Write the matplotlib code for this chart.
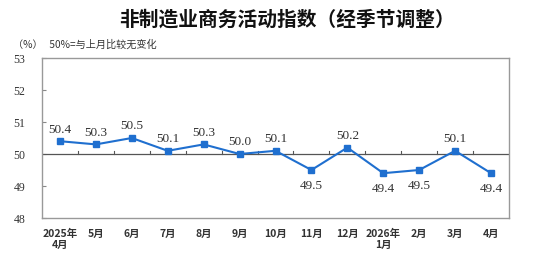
import matplotlib
matplotlib.use("Agg")
import matplotlib.pyplot as plt
from matplotlib.ticker import FixedLocator

months = ["2025年\n4月", "5月", "6月", "7月", "8月", "9月", "10月", "11月", "12月", "2026年\n1月", "2月", "3月", "4月"]
values = [50.4, 50.3, 50.5, 50.1, 50.3, 50.0, 50.1, 49.5, 50.2, 49.4, 49.5, 50.1, 49.4]
label_below = [False, False, False, False, False, False, False, True, False, True, True, False, True]
yticks = [48, 49, 50, 51, 52, 53]

cjk = ['Noto Sans CJK SC', 'DejaVu Sans']
serif = ['Liberation Serif', 'DejaVu Serif']

fig = plt.figure(figsize=(5.37, 2.57), dpi=100)
ax = fig.add_axes([42/537, 1-218/257, (509-42)/537, (218-58)/257])

x = list(range(len(values)))
ax.plot(x, values, color='#1f6fcf', lw=1.5, marker='s', ms=4.5, zorder=3)
ax.axhline(50, color='#555555', lw=0.9, zorder=2)

for xi, v, below in zip(x, values, label_below):
    if below:
        ax.annotate(f"{v:.1f}", (xi, v), xytext=(0, -7), textcoords='offset points',
                    ha='center', va='top', fontsize=9.5, family=serif, color='#333333')
    else:
        ax.annotate(f"{v:.1f}", (xi, v), xytext=(0, 4), textcoords='offset points',
                    ha='center', va='bottom', fontsize=9.5, family=serif, color='#333333')

# small ticks on the 50 line between categories
for b in range(1, len(values)):
    ax.plot([b - 0.5, b - 0.5], [50, 50.1], color='#555555', lw=0.8, zorder=2)

ax.set_xlim(-0.5, len(values) - 0.5)
ax.set_ylim(48, 53)
ax.yaxis.set_major_locator(FixedLocator(yticks))
ax.set_yticklabels([str(t) for t in yticks], family=serif, fontsize=8.5, color='#333333')
ax.tick_params(axis='y', direction='in', length=3, color='#888888', pad=12)
ax.set_xticks(x)
ax.set_xticklabels(months, family=cjk, fontsize=7.5, fontweight='bold', color='#333333', linespacing=1.1)
ax.tick_params(axis='x', length=0, pad=8)
for s in ax.spines.values():
    s.set_color('#999999')
    s.set_linewidth(1.0)

fig.text(287/537, 1-20/257, "非制造业商务活动指数（经季节调整）", family=cjk, fontsize=14.2,
         fontweight='bold', ha='center', va='center', color='#111111')
fig.text(13/537, 1-45/257, "（%）   50%=与上月比较无变化", family=cjk, fontsize=7.3,
         ha='left', va='center', color='#333333')

fig.savefig("out.png", dpi=100)
